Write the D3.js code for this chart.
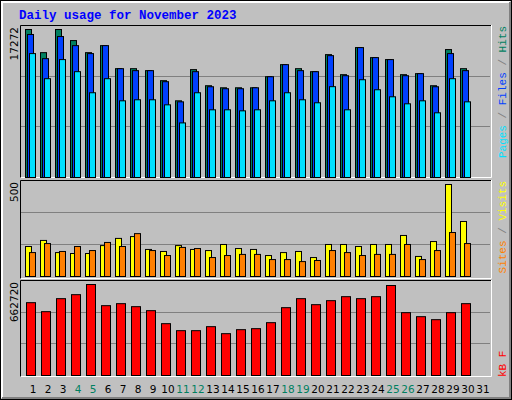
<!DOCTYPE html>
<html><head><meta charset="utf-8">
<script src="https://cdn.jsdelivr.net/npm/d3@7"></script>
<style>body{margin:0;background:#fff}</style>
</head><body>
<script>
const days = d3.range(1, 32);
const weekend = [4, 5, 11, 12, 18, 19, 25, 26];
const hits = [17272, 14570, 17272, 15980, 14570, 15390, 12700, 12700, 12470, 11300, 8950, 12590, 10710, 10470, 10470, 10470, 11760, 13170, 12700, 12350, 14340, 12000, 15160, 13990, 13760, 12000, 12120, 10710, 14930, 12700, 0];
const files = [16690, 13870, 16450, 15390, 14460, 15390, 12700, 12470, 12470, 11180, 8830, 12350, 10590, 10360, 10360, 10470, 11760, 13170, 12470, 12350, 14220, 11880, 15160, 13990, 13760, 11880, 12120, 10590, 14460, 12470, 0];
const pages = [14460, 11530, 13760, 12350, 9890, 11530, 8950, 9070, 9070, 8480, 6370, 9890, 7900, 7900, 7780, 7900, 8950, 9890, 9070, 8720, 10600, 7900, 11410, 10240, 9420, 8600, 8950, 7550, 11530, 8830, 0];
const visits = [163, 196, 130, 125, 125, 168, 207, 217, 147, 136, 168, 147, 141, 174, 152, 147, 114, 130, 136, 103, 174, 174, 163, 174, 174, 223, 109, 190, 500, 299, 0];
const sites = [130, 179, 136, 163, 141, 185, 163, 233, 141, 114, 158, 152, 103, 114, 120, 120, 92, 92, 81, 87, 141, 130, 114, 120, 120, 174, 92, 141, 239, 179, 0];
const kbytes = [530400, 464900, 559600, 588700, 662720, 508600, 523200, 501300, 472200, 377500, 326500, 326500, 355700, 304700, 333800, 341100, 384800, 494000, 559600, 515900, 545000, 574100, 559600, 574100, 655400, 457600, 428400, 406600, 457600, 523200, 0];

const W = 512, H = 400;
const svg = d3.select("body").append("svg").attr("width", W).attr("height", H)
  .style("font-family", "DejaVu Sans");

svg.append("rect").attr("x", 0.5).attr("y", 0.5).attr("width", W - 1).attr("height", H - 1)
  .attr("fill", "#c0c0c0").attr("stroke", "#000");
// outer bevel
svg.append("path").attr("d", `M2,${H - 2}V2H${W - 2}`).attr("fill", "none").attr("stroke", "#fff").attr("stroke-width", 2);
svg.append("path").attr("d", `M2,${H - 2}H${W - 2}V2`).attr("fill", "none").attr("stroke", "#808080").attr("stroke-width", 2);

svg.append("text").attr("x", 19).attr("y", 19)
  .attr("fill", "#0000ff").style("font-family", "Liberation Mono").style("font-weight", "bold")
  .style("font-size", "12.5px").text("Daily usage for November 2023");

const x = d3.scaleBand().domain(days).range([25, 490]).paddingInner(0);

const panels = [
  { top: 25, bottom: 178, base: 177, maxY: 29, max: 17272, label: "17272" },
  { top: 180, bottom: 279, base: 276, maxY: 184, max: 500, label: "500" },
  { top: 280, bottom: 377, base: 375, maxY: 284, max: 662720, label: "662720" }
];

panels.forEach(p => {
  svg.append("rect").attr("x", 20).attr("y", p.top).attr("width", 471).attr("height", p.bottom - p.top)
    .attr("fill", "#c0c0c0");
  const h = p.bottom - p.top;
  [1, 2].forEach(k => {
    svg.append("line").attr("x1", 21).attr("x2", 490)
      .attr("y1", Math.round(p.base - (p.base - p.top) * k / 3) + 0.5)
      .attr("y2", Math.round(p.base - (p.base - p.top) * k / 3) + 0.5)
      .attr("stroke", "#808080");
  });
  svg.append("path").attr("d", `M20.5,${p.bottom}V${p.top + 0.5}H491`).attr("fill", "none").attr("stroke", "#000");
  svg.append("path").attr("d", `M20.5,${p.bottom - 0.5}H491.5V${p.top}`).attr("fill", "none").attr("stroke", "#fff");
  p.y = d3.scaleLinear().domain([0, p.max]).range([p.base, p.maxY]);
  svg.append("text").attr("transform", `translate(18,${p.top + 2}) rotate(-90)`)
    .attr("text-anchor", "end").style("font-size", "10.5px").text(p.label);
});

function bars(data, p, color, off, w) {
  svg.append("g").selectAll("rect").data(data.slice(0, 30)).join("rect")
    .attr("x", (d, i) => x(days[i]) + off + 0.5)
    .attr("y", d => p.y(d) + 0.5)
    .attr("width", w)
    .attr("height", d => p.base - p.y(d))
    .attr("fill", color).attr("stroke", "#000");
}
bars(hits, panels[0], "#008060", 0, 6);
bars(files, panels[0], "#0040ff", 2, 6);
bars(pages, panels[0], "#00e0ff", 4, 6);
bars(visits, panels[1], "#ffff00", 0, 6);
bars(sites, panels[1], "#ff8000", 4, 6);
bars(kbytes, panels[2], "#ff0000", 1, 9);

// day labels
svg.append("g").selectAll("text").data(days).join("text")
  .attr("x", d => x(d) + 8).attr("y", 393).attr("text-anchor", "middle")
  .style("font-size", "10.5px")
  .attr("fill", d => weekend.includes(d) ? "#008060" : "#000").text(d => d);

// right legends
function legend(yAnchor, anchor, parts) {
  const t = svg.append("text").attr("transform", `translate(506,${yAnchor}) rotate(-90)`)
    .attr("text-anchor", anchor).style("font-family", "Liberation Mono").style("font-size", "11px");
  parts.forEach(([s, c]) => t.append("tspan").attr("fill", c).text(s));
}
legend(26, "end", [["Pages", "#00e0ff"], [" / ", "#808080"], ["Files", "#0040ff"], [" / ", "#808080"], ["Hits", "#008060"]]);
legend(181, "end", [["Sites", "#ff8000"], [" / ", "#808080"], ["Visits", "#ffff00"]]);
legend(377, "start", [["kB F", "#ff0000"]]);
</script>
</body></html>
